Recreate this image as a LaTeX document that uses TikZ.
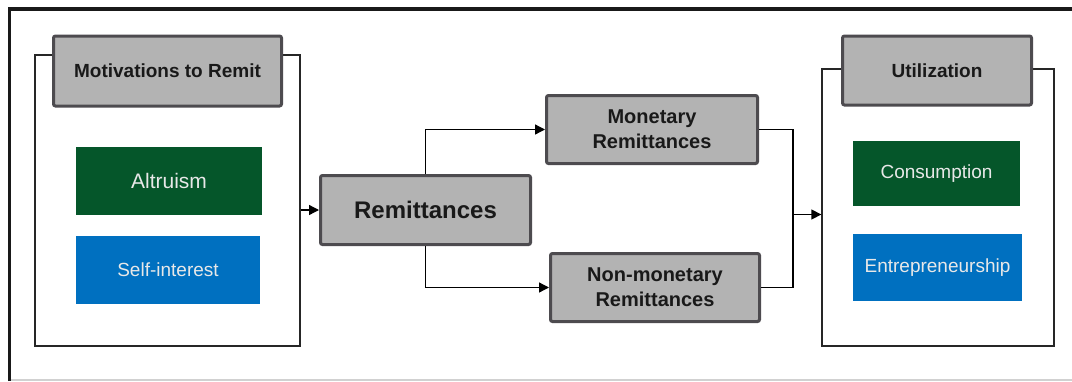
\documentclass[tikz,border=0pt]{standalone}
\usepackage{fontspec}
\setmainfont{Liberation Sans}
\usetikzlibrary{arrows.meta, positioning}

\definecolor{boxgray}{HTML}{B3B3B3}
\definecolor{edgegray}{HTML}{4D4B4F}
\definecolor{leafgreen}{HTML}{05562A}
\definecolor{skyblue}{HTML}{0070C0}
\definecolor{paletext}{HTML}{E8E8E8}

\begin{document}
\begin{tikzpicture}[x=1pt, y=-1pt, line width=1.3pt,
    panel/.style={draw=black!85, fill=white, line width=1.3pt, inner sep=0pt},
    titlebox/.style={draw=edgegray, fill=boxgray, line width=3pt, rounded corners=2pt,
        inner sep=0pt, align=center, text=black!90},
    fillbox/.style={inner sep=0pt, text=paletext, font=\fontsize{19}{22}\selectfont},
    arr/.style={-{Triangle[length=10pt, width=10pt]}},
]
    \useasboundingbox (0,0) rectangle (1072,381);

    % outer frame
    \draw[line width=3.5pt, black!90] (9.5,381) -- (9.5,9) -- (1072,9);
    \draw[line width=2pt, black!18] (11,379.5) -- (1072,379.5);

    % left side
    \node[panel, minimum width=265, minimum height=291] (motpanel) at (167.5,200.5) {};
    \node[titlebox, minimum width=228, minimum height=70,
        font=\bfseries\fontsize{19}{22}\selectfont] (motiv) at (167.5,71) {Motivations to Remit};
    \node[fillbox, fill=leafgreen, minimum width=186, minimum height=68,
        font=\fontsize{21}{24}\selectfont] (altru) at (169,181) {Altruism};
    \node[fillbox, fill=skyblue, minimum width=184, minimum height=68] (selfint) at (168,270) {Self-interest};

    % middle
    \node[titlebox, minimum width=210, minimum height=69,
        font=\bfseries\fontsize{24}{28}\selectfont] (remit) at (425.5,210) {Remittances};
    \node[titlebox, minimum width=211, minimum height=68,
        font=\bfseries\fontsize{20}{25}\selectfont] (money) at (652,129.5) {Monetary\\Remittances};
    \node[titlebox, minimum width=209, minimum height=68,
        font=\bfseries\fontsize{20}{25}\selectfont] (nonmoney) at (655,287.5) {Non-monetary\\Remittances};

    % right side
    \node[panel, minimum width=232, minimum height=277] (usepanel) at (938,207.5) {};
    \node[titlebox, minimum width=189, minimum height=69,
        font=\bfseries\fontsize{19}{22}\selectfont] (util) at (937,70.5) {Utilization};
    \node[fillbox, fill=leafgreen, minimum width=167, minimum height=65] (consum) at (936.5,173.5) {Consumption};
    \node[fillbox, fill=skyblue, minimum width=169, minimum height=67] (entre) at (937.5,267.5) {Entrepreneurship};

    % connectors
    \draw[arr] (motpanel.east |- remit.west) -- (remit.west);
    \draw[arr] (remit.north) |- (money.west);
    \draw[arr] (remit.south) |- (nonmoney.west);

    \coordinate (join) at (793,214.5);
    \draw (money.east) -| (join) |- (nonmoney.east);
    \draw[arr] (join) -- (join -| usepanel.west);
\end{tikzpicture}
\end{document}
